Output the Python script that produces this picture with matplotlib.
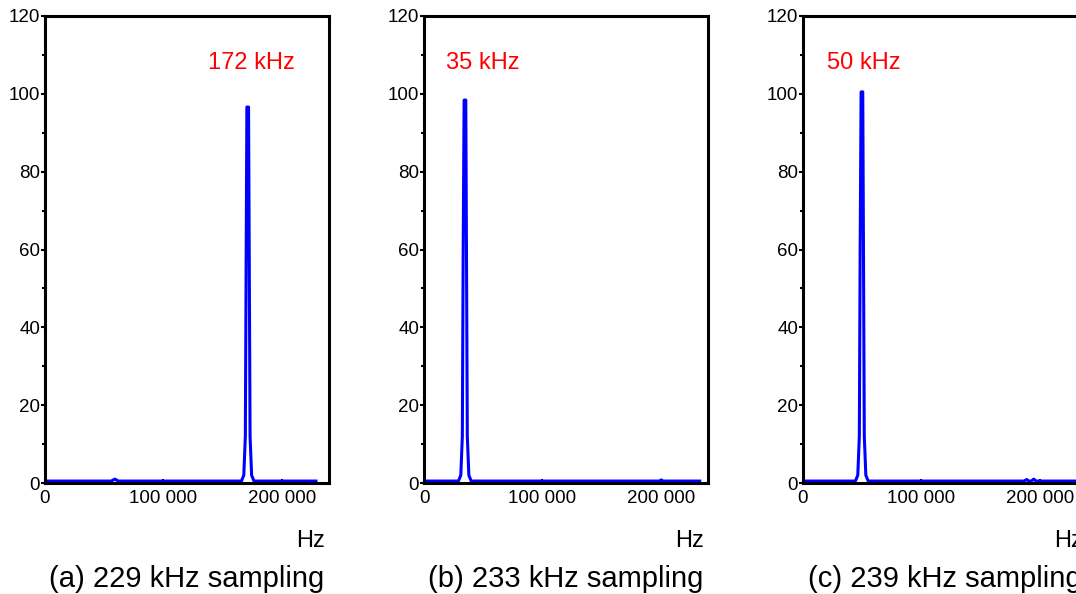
import matplotlib
matplotlib.use("Agg")
import matplotlib.pyplot as plt
from matplotlib.ticker import FuncFormatter, MultipleLocator

plt.rcParams['font.family'] = ['Liberation Sans', 'DejaVu Sans']

# spectra (Hz, amplitude)
freq_a = [0, 56000, 59000, 62000, 166000, 168000, 169300, 170000, 170600, 172000,
          172600, 173300, 174600, 176600, 229000]
amp_a = [0.5, 0.5, 1.0, 0.5, 0.5, 2, 12, 58, 96.6, 96.6, 58, 12, 2, 0.5, 0.5]
freq_b = [0, 29100, 31100, 32400, 33100, 33900, 35300, 35900, 36600, 37900, 39900,
          199000, 200500, 202000, 233000]
amp_b = [0.5, 0.5, 2, 12, 59, 98.4, 98.4, 59, 12, 2, 0.5, 0.5, 0.8, 0.5, 0.5]
freq_c = [0, 44300, 46300, 47600, 48300, 49100, 50500, 51100, 51800, 53100, 55100,
          187000, 189000, 191000, 193000, 195000, 197000, 239000]
amp_c = [0.5, 0.5, 2, 12, 60, 100.5, 100.5, 60, 12, 2, 0.5, 0.5, 0.9, 0.5, 0.5, 1.0, 0.5, 0.5]

peak_labels = ['172 kHz', '35 kHz', '50 kHz']
label_x = [137500, 18500, 20000]
captions = ['(a) 229 kHz sampling', '(b) 233 kHz sampling', '(c) 239 kHz sampling']

panels = [(freq_a, amp_a), (freq_b, amp_b), (freq_c, amp_c)]
lefts = [45, 424, 803]

fig = plt.figure(figsize=(10.76, 5.94), dpi=100)
fmt = FuncFormatter(lambda v, p: '{:,}'.format(int(v)).replace(',', ' '))

for i, (f, a) in enumerate(panels):
    ax = fig.add_axes([lefts[i] / 1076, 111 / 594, 284 / 1076, 467 / 594])
    ax.plot(f, a, color='#0000ff', lw=2.2, solid_joinstyle='round')
    ax.set_xlim(0, 240000)
    ax.set_ylim(0, 120)
    ax.set_yticks([0, 20, 40, 60, 80, 100, 120])
    ax.yaxis.set_minor_locator(MultipleLocator(10))
    ax.set_xticks([0, 100000, 200000])
    ax.xaxis.set_major_formatter(fmt)
    ax.tick_params(axis='y', direction='out', length=3, width=1.5, pad=0.5, labelsize=13.5)
    ax.tick_params(axis='y', which='minor', direction='out', length=2, width=1.5)
    ax.tick_params(axis='x', direction='in', length=3, width=1.5, pad=5, labelsize=13.5)
    for s in ax.spines.values():
        s.set_linewidth(2.2)
    ax.text(label_x[i], 108, peak_labels[i], color='#ff0000', fontsize=17,
            ha='left', va='center')
    ax.text(0.985, -0.125, 'Hz', transform=ax.transAxes, ha='right', va='center',
            fontsize=17)
    ax.text(0.5, -0.205, captions[i], transform=ax.transAxes, ha='center', va='center',
            fontsize=21)

fig.savefig('out.png', dpi=100)
